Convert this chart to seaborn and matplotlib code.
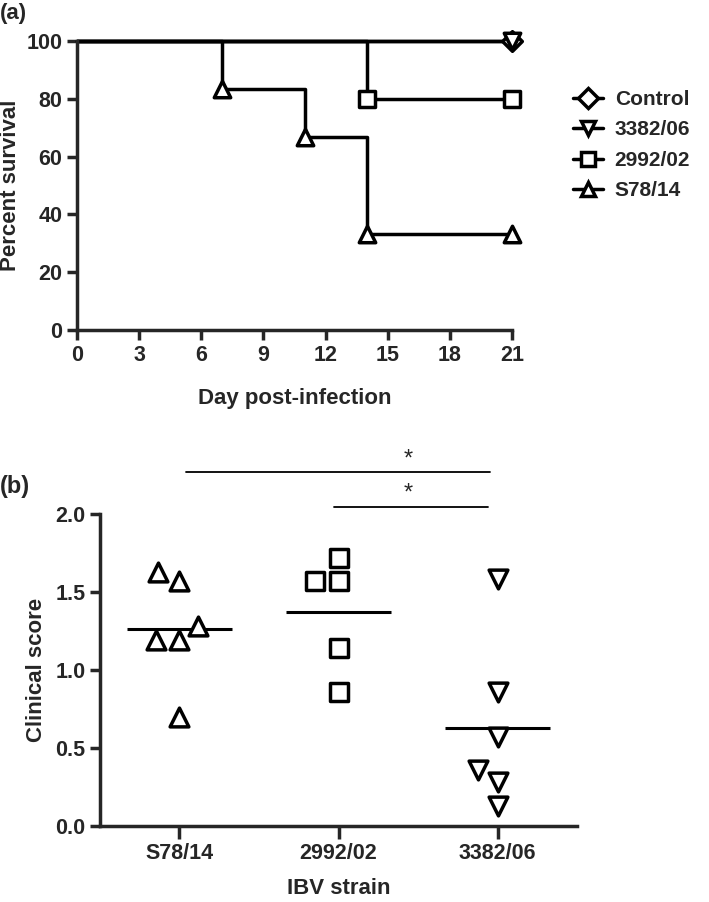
import numpy as np
import pandas as pd
import matplotlib.pyplot as plt
import seaborn as sns
from matplotlib.lines import Line2D

# ----------------------------------------------------------
# Data : (a) survival curves
# ----------------------------------------------------------

legend_order = ["Control", "3382/06", "2992/02", "S78/14"]

control_days = [0, 21]
control_surv = [100, 100]

s3382_days = [0, 21]
s3382_surv = [100, 100]

s2992_days = [0, 14, 21]
s2992_surv = [100, 80, 80]

s78_days = [0, 7, 11, 14, 21]
s78_surv = [100, 83.3, 66.7, 33.3, 33.3]

# ----------------------------------------------------------
# Data : (b) clinical scores
# ----------------------------------------------------------

score_order = ["S78/14", "2992/02", "3382/06"]
s78_scores = [1.57, 1.63, 1.19, 1.19, 1.28, 0.70]
s2992_scores = [1.72, 1.57, 1.57, 1.14, 0.86]
s3382_scores = [1.58, 0.86, 0.57, 0.36, 0.28, 0.13]

# ----------------------------------------------------------
# Style
# ----------------------------------------------------------

sns.set_style("ticks")
plt.rcParams["font.family"] = ["Liberation Sans", "DejaVu Sans"]
plt.rcParams["font.weight"] = "bold"

LW = 2.5
TICK_FS = 15.5
LABEL_FS = 16
markers = {"Control": "D", "3382/06": "v", "2992/02": "s", "S78/14": "^"}

fig = plt.figure(figsize=(7.09, 9.02), dpi=100)

# ----------------------------------------------------------
# Panel (a) : survival
# ----------------------------------------------------------

ax1 = fig.add_axes([0.1086, 0.6341, 0.6135, 0.3204])

curves = {
    "Control": (control_days, control_surv),
    "3382/06": (s3382_days, s3382_surv),
    "2992/02": (s2992_days, s2992_surv),
    "S78/14": (s78_days, s78_surv),
}

for name, (days, surv) in curves.items():
    sns.lineplot(
        x=days, y=surv, drawstyle="steps-post",
        color="black", lw=LW, estimator=None,
        ax=ax1, clip_on=False, zorder=2
    )
    sns.scatterplot(
        x=days[1:], y=surv[1:], marker=markers[name],
        s=140 if name != "Control" else 100,
        facecolor="white", edgecolor="black", linewidth=LW,
        ax=ax1, clip_on=False, zorder=3
    )

ax1.set_xlim(0, 21)
ax1.set_ylim(0, 100)
ax1.set_xticks(range(0, 22, 3))
ax1.set_yticks(range(0, 101, 20))
ax1.set_xlabel("Day post-infection", fontsize=LABEL_FS, fontweight="bold", labelpad=16)
ax1.set_ylabel("Percent survival", fontsize=LABEL_FS, fontweight="bold", labelpad=4)

handles = [
    Line2D([], [], color="black", lw=LW, marker=markers[n], ms=10,
           mfc="white", mec="black", mew=LW)
    for n in legend_order
]
fig.legend(
    handles, legend_order,
    loc="upper left", bbox_to_anchor=(573 / 709, 1 - 90 / 902),
    frameon=False, handlelength=1.45,
    handletextpad=0.55, labelspacing=0.55,
    borderpad=0, borderaxespad=0,
    prop={"weight": "bold", "size": 15}
)

# ----------------------------------------------------------
# Panel (b) : clinical score
# ----------------------------------------------------------

ax2 = fig.add_axes([0.141, 0.0843, 0.673, 0.346])

score_df = pd.DataFrame({
    "strain": ["S78/14"] * len(s78_scores)
    + ["2992/02"] * len(s2992_scores)
    + ["3382/06"] * len(s3382_scores),
    "score": s78_scores + s2992_scores + s3382_scores,
})

score_markers = {"S78/14": "^", "2992/02": "s", "3382/06": "v"}
for name in score_order:
    sub = score_df[score_df["strain"] == name]
    sns.swarmplot(
        data=sub, x="strain", y="score", order=score_order,
        marker=score_markers[name], size=13.5,
        color="white", edgecolor="black", linewidth=LW,
        ax=ax2, clip_on=False, zorder=3
    )

means = score_df.groupby("strain")["score"].mean()
for i, name in enumerate(score_order):
    ax2.hlines(means[name], i - 0.33, i + 0.33, color="black", lw=2.2, zorder=2)

ax2.set_xlim(-0.5, 2.5)
ax2.set_ylim(0, 2.0)
ax2.set_yticks([0.0, 0.5, 1.0, 1.5, 2.0])
ax2.set_yticklabels(["0.0", "0.5", "1.0", "1.5", "2.0"])
ax2.set_xlabel("IBV strain", fontsize=LABEL_FS, fontweight="bold", labelpad=10)
ax2.set_ylabel("Clinical score", fontsize=LABEL_FS, fontweight="bold", labelpad=6)

# significance bars
ax2.plot([0.04, 1.95], [2.27, 2.27], color="black", lw=1.3, clip_on=False)
ax2.plot([0.97, 1.94], [2.045, 2.045], color="black", lw=1.3, clip_on=False)
ax2.text(1.44, 2.35, "*", ha="center", va="center", fontsize=17, fontweight="normal")
ax2.text(1.44, 2.13, "*", ha="center", va="center", fontsize=17, fontweight="normal")

# ----------------------------------------------------------
# Shared axis styling
# ----------------------------------------------------------

for ax in (ax1, ax2):
    sns.despine(ax=ax)
    for side in ("left", "bottom"):
        ax.spines[side].set_linewidth(LW)
    ax.tick_params(width=LW, length=7, labelsize=TICK_FS, direction="out")
    for lab in ax.get_xticklabels() + ax.get_yticklabels():
        lab.set_fontweight("bold")

ax2.tick_params(axis="x", length=9, pad=3)

fig.text(0.0, 1 - 13 / 902, "(a)", fontsize=16, fontweight="bold", va="center", ha="left")
fig.text(0.0, 1 - 487 / 902, "(b)", fontsize=17, fontweight="bold", va="center", ha="left")

fig.savefig("out.png", dpi=100)
